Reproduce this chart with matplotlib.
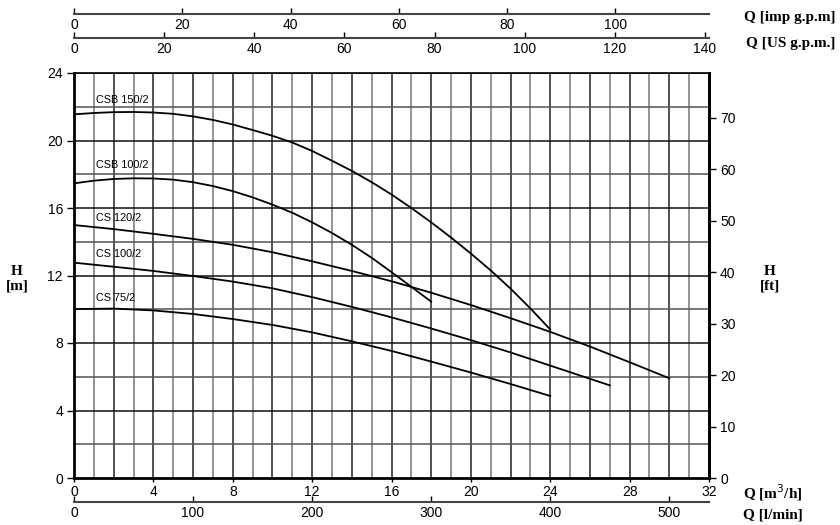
import numpy as np
import matplotlib
matplotlib.use("Agg")
import matplotlib.pyplot as plt

# ---- data (Q in m3/h, H in m) ----
q_csb150 = [0, 1, 2, 3, 4, 5, 6, 7, 8, 9, 10, 11, 12, 13, 14, 15, 16, 17, 18, 19, 20, 21, 22, 23, 24]
h_csb150 = [21.55, 21.63, 21.68, 21.69, 21.66, 21.58, 21.43, 21.22, 20.95, 20.62, 20.28, 19.88, 19.38,
            18.80, 18.20, 17.53, 16.80, 16.00, 15.15, 14.25, 13.30, 12.30, 11.22, 10.05, 8.80]

q_csb100 = [0, 1, 2, 3, 4, 5, 6, 7, 8, 9, 10, 11, 12, 13, 14, 15, 16, 17, 18]
h_csb100 = [17.46, 17.62, 17.72, 17.76, 17.75, 17.68, 17.53, 17.30, 17.00, 16.63, 16.20, 15.72, 15.15,
            14.52, 13.82, 13.05, 12.20, 11.33, 10.45]

q_cs120 = [0, 2, 4, 6, 8, 10, 12, 14, 16, 18, 20, 22, 24, 26, 28, 30]
h_cs120 = [14.99, 14.75, 14.47, 14.17, 13.82, 13.38, 12.84, 12.27, 11.66, 10.98, 10.25, 9.47, 8.66,
           7.79, 6.86, 5.91]

q_cs100 = [0, 2, 4, 6, 8, 10, 12, 14, 16, 18, 20, 22, 24, 26, 27]
h_cs100 = [12.76, 12.52, 12.27, 11.97, 11.64, 11.24, 10.72, 10.14, 9.52, 8.86, 8.17, 7.44, 6.66, 5.88, 5.49]

q_cs75 = [0, 2, 4, 6, 8, 10, 12, 14, 16, 18, 20, 22, 24]
h_cs75 = [10.01, 10.04, 9.93, 9.72, 9.42, 9.07, 8.63, 8.10, 7.53, 6.90, 6.25, 5.57, 4.86]

names = ["CSB 150/2", "CSB 100/2", "CS 120/2", "CS 100/2", "CS 75/2"]
label_h = [22.4, 18.55, 15.43, 13.3, 10.65]

m_ticks = [0, 4, 8, 12, 16, 20, 24]
ft_ticks = [0, 10, 20, 30, 40, 50, 60, 70]
q_ticks = [0, 4, 8, 12, 16, 20, 24, 28, 32]
lmin_ticks = [0, 100, 200, 300, 400, 500]
us_ticks = [0, 20, 40, 60, 80, 100, 120, 140]
imp_ticks = [0, 20, 40, 60, 80, 100]

QMAX, HMAX = 32, 24
SANS = "Liberation Sans"
SERIF = "Liberation Serif"

fig = plt.figure(figsize=(8.4, 5.25), dpi=100)
L, R = 74 / 840, 709 / 840
B, T = (525 - 478) / 525, (525 - 73) / 525
ax = fig.add_axes([L, B, R - L, T - B])
ax.set_xlim(0, QMAX)
ax.set_ylim(0, HMAX)

# grid
for i, x in enumerate(np.arange(1, QMAX)):
    ax.axvline(x, color="#222222" if i % 2 else "#777777", lw=1.1, zorder=1)
for i, y in enumerate(np.arange(2, HMAX + 1, 2)):
    ax.axhline(y, color="#111111" if i % 2 else "#555555", lw=1.1, zorder=1)

series = [(q_csb150, h_csb150), (q_csb100, h_csb100), (q_cs120, h_cs120),
          (q_cs100, h_cs100), (q_cs75, h_cs75)]
for (q, h), name, lh in zip(series, names, label_h):
    ax.plot(q, h, color="black", lw=1.3, zorder=3, solid_joinstyle="round")
    ax.text(1.1, lh, name, fontsize=7.8, family=SANS, va="center", ha="left", zorder=4)

for s in ["left", "bottom", "right"]:
    ax.spines[s].set_linewidth(2)
ax.spines["top"].set_linewidth(1.2)
ax.set_yticks(m_ticks)
ax.set_xticks(q_ticks)
ax.tick_params(axis="y", direction="out", length=5, width=1, labelsize=10, pad=3)
ax.tick_params(axis="x", direction="out", length=3, width=1, labelsize=10, pad=2)
for lab in ax.get_xticklabels() + ax.get_yticklabels():
    lab.set_family(SANS)

# right ft axis
axr = ax.twinx()
axr.set_ylim(0, HMAX * 3.28084)
axr.set_yticks(ft_ticks)
axr.tick_params(axis="y", direction="out", length=5, width=1, labelsize=10, pad=3)
for lab in axr.get_yticklabels():
    lab.set_family(SANS)
for s in ["left", "bottom", "top"]:
    axr.spines[s].set_visible(False)
axr.spines["right"].set_linewidth(2)


def unit_axis(ypix, xmax, ticks):
    a = fig.add_axes([L, (525 - ypix) / 525, R - L, 0.001])
    a.set_xlim(0, xmax)
    a.set_yticks([])
    for s in ["left", "right", "top"]:
        a.spines[s].set_visible(False)
    a.spines["bottom"].set_linewidth(1.5)
    a.spines["bottom"].set_color("#444444")
    a.patch.set_visible(False)
    a.set_xticks(ticks)
    a.tick_params(axis="x", direction="in", length=4, width=1, labelsize=10, pad=3)
    for lab in a.get_xticklabels():
        lab.set_family(SANS)
    return a


unit_axis(38, QMAX / 0.22712, us_ticks)
unit_axis(14, QMAX / 0.27277, imp_ticks)
unit_axis(502, QMAX * 1000 / 60, lmin_ticks)

tkw = dict(family=SERIF, fontweight="bold", fontsize=11)
fig.text(835 / 840, 1 - 18 / 525, "Q [imp g.p.m]", ha="right", va="center", **tkw)
fig.text(835 / 840, 1 - 43 / 525, "Q [US g.p.m.]", ha="right", va="center", **tkw)
fig.text(743 / 840, 1 - 493 / 525, "Q [m$^3$/h]", ha="left", va="center", **tkw)
fig.text(743 / 840, 1 - 515 / 525, "Q [l/min]", ha="left", va="center", **tkw)
fig.text(17 / 840, 1 - 279 / 525, "H\n[m]", ha="center", va="center", linespacing=1.2, **tkw)
fig.text(770 / 840, 1 - 279 / 525, "H\n[ft]", ha="center", va="center", linespacing=1.2, **tkw)

fig.savefig("out.png", dpi=100)
